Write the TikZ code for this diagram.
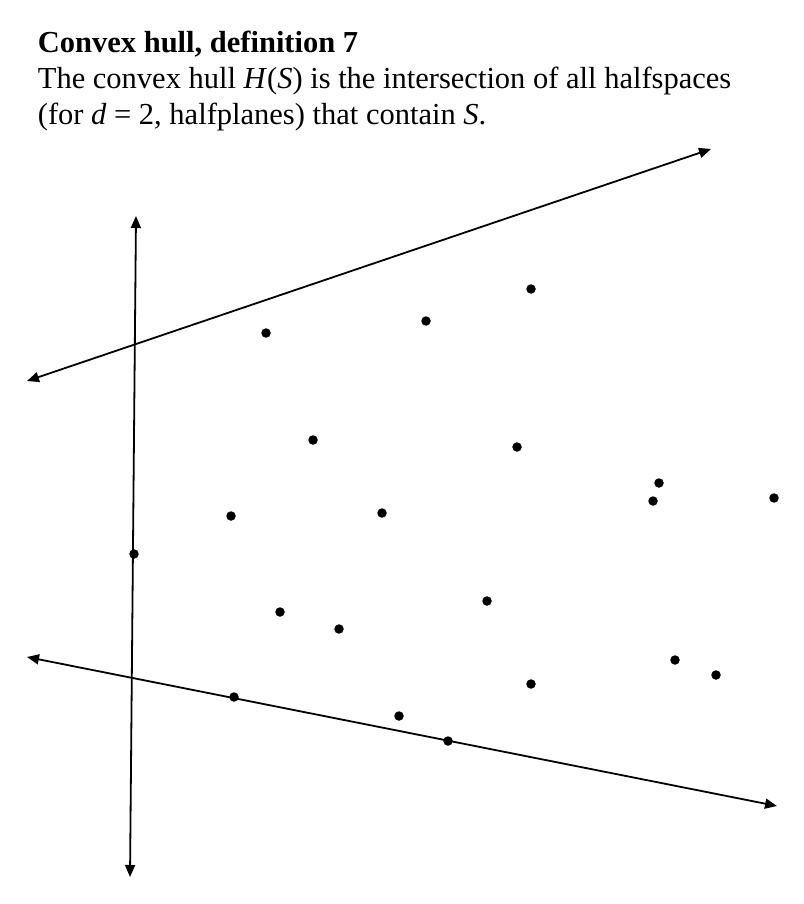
\documentclass[tikz,border=0pt]{standalone}
\usepackage{fontspec}
\setmainfont{Liberation Serif}
\usetikzlibrary{arrows.meta}

\begin{document}
\begin{tikzpicture}[
x = 1pt, y = -1pt, % one unit per pixel, y going down
> = {Triangle[length=12pt,width=10pt]}, % arrow head style
line width = 1.8pt, % line style
every node/.style = {inner sep=0pt}
]

\tikzstyle{dot}=[
circle,
fill = black,
minimum size = 9.5pt
]
\tikzstyle{txt}=[
anchor = base west,
font = \fontsize{30.5}{36}\selectfont
]

\useasboundingbox (0,0) rectangle (803,904);

\node[txt, font=\fontsize{30.5}{36}\selectfont\bfseries] (title) at (37,53) {Convex hull, definition 7};
\node[txt] (line1) at (37,89) {The convex hull \textit{H}(\textit{S}) is the intersection of all halfspaces};
\node[txt] (line2) at (37,125) {(for \textit{d} = 2, halfplanes) that contain \textit{S}.};

% ends of the three halfplane borders
\coordinate (up1) at (27,381);
\coordinate (up2) at (711,149);
\coordinate (low1) at (27,657);
\coordinate (low2) at (777,806);
\coordinate (vert1) at (136,216);
\coordinate (vert2) at (130,877);

\draw[<->] (up1) -- (up2);
\draw[<->] (low1) -- (low2);
\draw[<->] (vert1) -- (vert2);

% the set S
\foreach \n/\x/\y in {a/531/289, b/426/321, c/266/333, d/313/440, e/517/447,
  f/659/483, g/653/501, h/774/498, i/231/516, j/382/513, k/134/554,
  l/280/612, m/339/629, n/487/601, o/675/660, p/716/675, q/531/684,
  r/234/697, s/399/716, t/448/741}
  \node[dot] (\n) at (\x,\y) {};

\end{tikzpicture}
\end{document}
